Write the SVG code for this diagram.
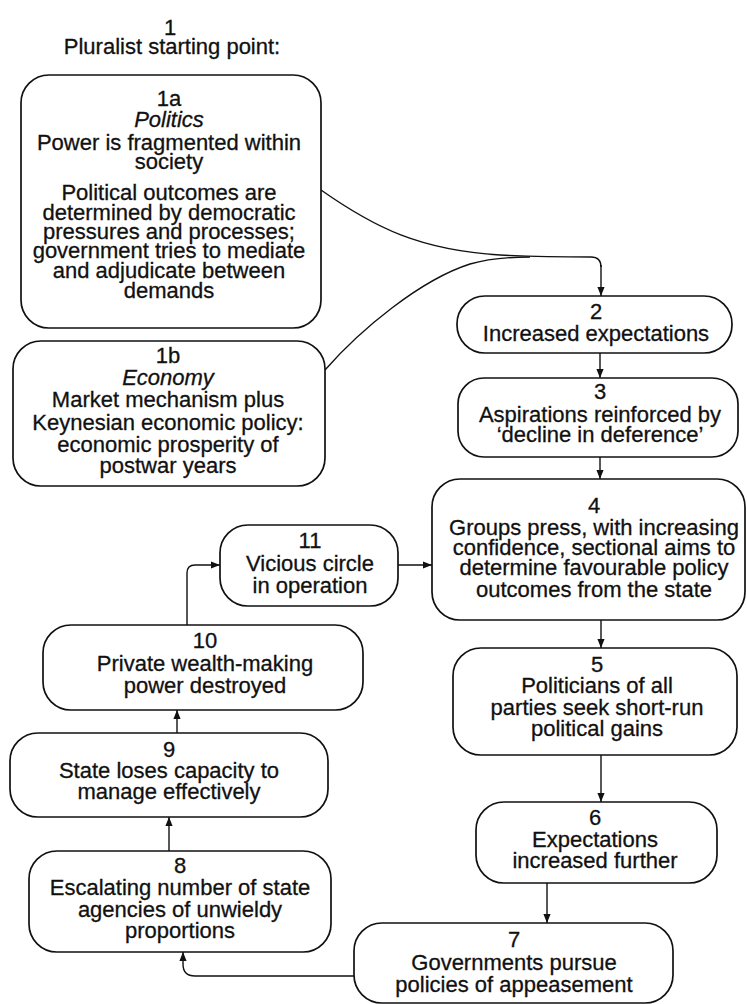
<svg xmlns="http://www.w3.org/2000/svg" width="747" height="1004" viewBox="0 0 747 1004">
  <defs>
    <marker id="arrow" viewBox="0 0 10 10" refX="10" refY="5" markerWidth="9" markerHeight="9" markerUnits="userSpaceOnUse" orient="auto">
      <path d="M0,1 L10,5 L0,9 z" fill="#111"/>
    </marker>
  </defs>
  <style>
    .box { fill: #fff; stroke: #111; stroke-width: 1.7; }
    .t { font-family: "Liberation Sans", Arial, sans-serif; font-size: 22px; fill: #111; stroke: #111; stroke-width: 0.3; text-anchor: middle; }
    .ti { font-style: italic; }
    .edge { fill: none; stroke: #111; stroke-width: 1.4; }
    .arr { marker-end: url(#arrow); }
  </style>

  <rect width="747" height="1004" fill="#fff"/>

  <!-- heading -->
  <g id="n1">
    <text class="t" x="170" y="35">1</text>
    <text class="t" x="172" y="54">Pluralist starting point:</text>
  </g>

  <!-- connectors -->
  <g id="edges">
    <path class="edge" d="M321,190 C375,228 420,250 500,255 C540,257 570,257 591,257 Q601,257 601,267"/>
    <path class="edge" d="M325,370 C360,330 420,280 470,264 C490,258 510,257 530,257"/>
    <path class="edge arr" d="M601,265 L601,296"/>
    <path class="edge arr" d="M600,353 L600,378"/>
    <path class="edge arr" d="M600,457 L600,479"/>
    <path class="edge arr" d="M601,620 L601,648"/>
    <path class="edge arr" d="M601,755 L601,802"/>
    <path class="edge arr" d="M547,883 L547,923"/>
    <path class="edge arr" d="M354,976 L195,976 Q183,976 183,964 L183,952"/>
    <path class="edge arr" d="M169,851 L169,817"/>
    <path class="edge arr" d="M177,733 L177,710"/>
    <path class="edge arr" d="M187,625 L187,573 Q187,565 195,565 L220,565"/>
    <path class="edge arr" d="M398,565 L432,565"/>
  </g>

  <g id="n1a">
    <rect class="box" x="21" y="75" width="300" height="253" rx="28"/>
    <text class="t" x="169" y="106">1a</text>
    <text class="t ti" x="169" y="127">Politics</text>
    <text class="t" x="169" y="150">Power is fragmented within</text>
    <text class="t" x="169" y="169">society</text>
    <text class="t" x="169" y="200">Political outcomes are</text>
    <text class="t" x="169" y="220">determined by democratic</text>
    <text class="t" x="169" y="239">pressures and processes;</text>
    <text class="t" x="169" y="258">government tries to mediate</text>
    <text class="t" x="169" y="278">and adjudicate between</text>
    <text class="t" x="169" y="298">demands</text>
  </g>

  <g id="n1b">
    <rect class="box" x="13" y="341" width="312" height="145" rx="28"/>
    <text class="t" x="168" y="363">1b</text>
    <text class="t ti" x="168" y="385">Economy</text>
    <text class="t" x="168" y="407">Market mechanism plus</text>
    <text class="t" x="168" y="430">Keynesian economic policy:</text>
    <text class="t" x="168" y="452">economic prosperity of</text>
    <text class="t" x="168" y="473">postwar years</text>
  </g>

  <g id="n2">
    <rect class="box" x="457" y="296" width="275" height="57" rx="28"/>
    <text class="t" x="596" y="319">2</text>
    <text class="t" x="596" y="341">Increased expectations</text>
  </g>

  <g id="n3">
    <rect class="box" x="458" y="378" width="280" height="79" rx="26"/>
    <text class="t" x="600" y="399">3</text>
    <text class="t" x="600" y="422">Aspirations reinforced by</text>
    <text class="t" x="600" y="442">‘decline in deference’</text>
  </g>

  <g id="n4">
    <rect class="box" x="432" y="479" width="313" height="141" rx="28"/>
    <text class="t" x="594" y="513">4</text>
    <text class="t" x="594" y="535">Groups press, with increasing</text>
    <text class="t" x="594" y="555">confidence, sectional aims to</text>
    <text class="t" x="594" y="575">determine favourable policy</text>
    <text class="t" x="594" y="597">outcomes from the state</text>
  </g>

  <g id="n5">
    <rect class="box" x="453" y="648" width="284" height="107" rx="28"/>
    <text class="t" x="597" y="672">5</text>
    <text class="t" x="597" y="693">Politicians of all</text>
    <text class="t" x="597" y="715">parties seek short-run</text>
    <text class="t" x="597" y="736">political gains</text>
  </g>

  <g id="n6">
    <rect class="box" x="476" y="802" width="241" height="81" rx="28"/>
    <text class="t" x="595" y="825">6</text>
    <text class="t" x="595" y="847">Expectations</text>
    <text class="t" x="595" y="868">increased further</text>
  </g>

  <g id="n7">
    <rect class="box" x="354" y="923" width="319" height="80" rx="28"/>
    <text class="t" x="514" y="947">7</text>
    <text class="t" x="514" y="970">Governments pursue</text>
    <text class="t" x="514" y="992">policies of appeasement</text>
  </g>

  <g id="n8">
    <rect class="box" x="29" y="851" width="302" height="101" rx="28"/>
    <text class="t" x="180" y="873">8</text>
    <text class="t" x="180" y="895">Escalating number of state</text>
    <text class="t" x="180" y="917">agencies of unwieldy</text>
    <text class="t" x="180" y="938">proportions</text>
  </g>

  <g id="n9">
    <rect class="box" x="10" y="733" width="318" height="84" rx="28"/>
    <text class="t" x="169" y="757">9</text>
    <text class="t" x="169" y="778">State loses capacity to</text>
    <text class="t" x="169" y="799">manage effectively</text>
  </g>

  <g id="n10">
    <rect class="box" x="43" y="625" width="320" height="85" rx="28"/>
    <text class="t" x="205" y="648">10</text>
    <text class="t" x="205" y="671">Private wealth-making</text>
    <text class="t" x="205" y="693">power destroyed</text>
  </g>

  <g id="n11">
    <rect class="box" x="220" y="525" width="178" height="81" rx="28"/>
    <text class="t" x="310" y="548">11</text>
    <text class="t" x="310" y="571">Vicious circle</text>
    <text class="t" x="310" y="593">in operation</text>
  </g>
</svg>
